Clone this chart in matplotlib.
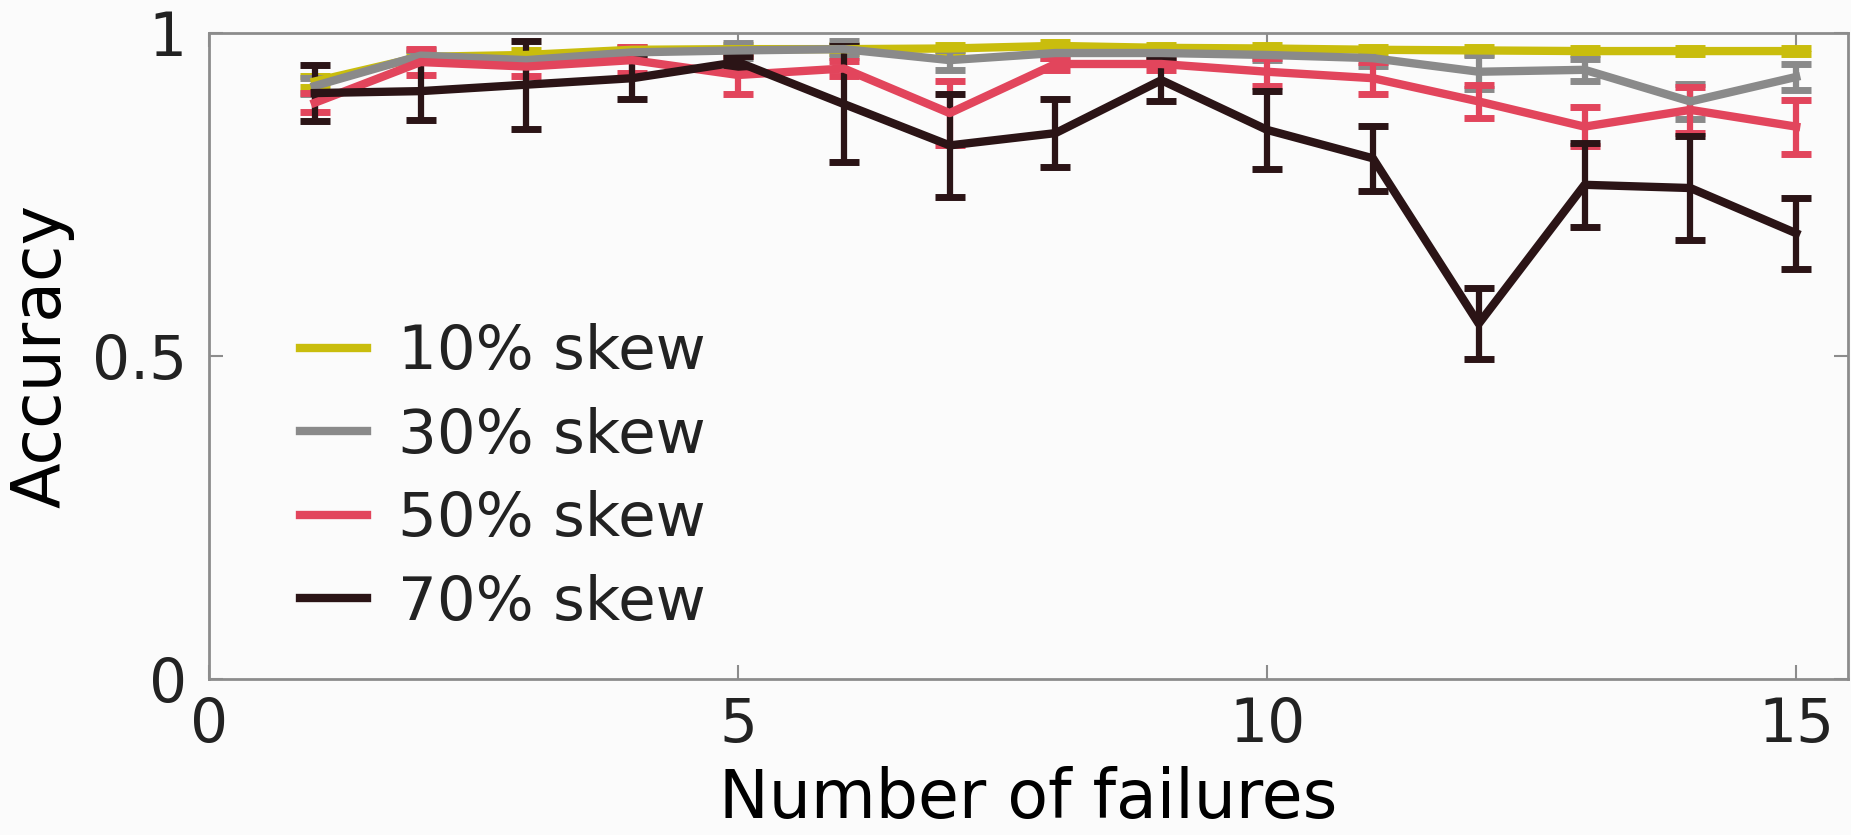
import matplotlib
matplotlib.use("Agg")
import matplotlib.pyplot as plt
from matplotlib.lines import Line2D
from matplotlib.ticker import FormatStrFormatter

# number of failed nodes on the x axis
failures = list(range(1, 16))

# mean accuracy and error for each skew level
acc_10 = [0.925, 0.963, 0.966, 0.974, 0.975, 0.975, 0.976, 0.980, 0.977, 0.976, 0.974, 0.973, 0.972, 0.972, 0.972]
err_10 = [0.008, 0.006, 0.008, 0.005, 0.006, 0.006, 0.006, 0.006, 0.005, 0.006, 0.005, 0.006, 0.005, 0.005, 0.005]

acc_30 = [0.918, 0.965, 0.958, 0.970, 0.973, 0.975, 0.958, 0.969, 0.969, 0.966, 0.961, 0.940, 0.943, 0.894, 0.932]
err_30 = [0.012, 0.008, 0.008, 0.006, 0.012, 0.012, 0.015, 0.008, 0.006, 0.008, 0.012, 0.026, 0.017, 0.027, 0.020]

acc_50 = [0.892, 0.955, 0.948, 0.958, 0.935, 0.945, 0.876, 0.952, 0.952, 0.940, 0.930, 0.894, 0.855, 0.881, 0.855]
err_50 = [0.015, 0.020, 0.015, 0.020, 0.030, 0.012, 0.050, 0.010, 0.010, 0.022, 0.025, 0.026, 0.030, 0.036, 0.042]

acc_70 = [0.907, 0.910, 0.920, 0.930, 0.955, 0.890, 0.826, 0.845, 0.927, 0.850, 0.806, 0.550, 0.765, 0.760, 0.690]
err_70 = [0.044, 0.045, 0.068, 0.032, 0.010, 0.090, 0.080, 0.053, 0.032, 0.060, 0.050, 0.055, 0.065, 0.080, 0.055]

labels = ["10% skew", "30% skew", "50% skew", "70% skew"]
colors = ["#c9bd0d", "#8a8a8a", "#e2455c", "#2b1416"]

plt.rcParams['font.family'] = ['DejaVu Sans']
plt.rcParams['text.color'] = '#222222'

fig = plt.figure(figsize=(18.51, 8.35), dpi=100, facecolor='#fbfbfb')
ax = fig.add_axes([0.1129, 0.1868, 0.8855, 0.7737])
ax.set_facecolor('#fbfbfb')

series = [(acc_10, err_10), (acc_30, err_30), (acc_50, err_50), (acc_70, err_70)]
for (acc, err), col in zip(series, colors):
    ax.errorbar(failures, acc, yerr=err, color=col, lw=6, elinewidth=4.5,
                capsize=11, capthick=5)

ax.set_xlim(0, 15.49)
ax.set_ylim(0, 1)
ax.set_xticks([0, 5, 10, 15])
ax.set_yticks([0, 0.5, 1])
ax.yaxis.set_major_formatter(FormatStrFormatter('%g'))

for s in ax.spines.values():
    s.set_color('#8c8c8c')
    s.set_linewidth(2)

ax.tick_params(direction='in', length=10, width=1.5, color='#8c8c8c',
               top=True, right=True, labelsize=43, labelcolor='#222222')
ax.tick_params(axis='y', pad=16)
ax.tick_params(axis='x', pad=12)

ax.set_xlabel("Number of failures", fontsize=48, labelpad=8)
ax.set_ylabel("Accuracy", fontsize=48, labelpad=12)

# legend shows plain line samples, no error bar glyphs
handles = [Line2D([], [], color=c, lw=6) for c in colors]
ax.legend(handles, labels, loc='lower left', bbox_to_anchor=(0.033, 0.015),
          frameon=False, fontsize=44, handlelength=1.1, handletextpad=0.5,
          labelspacing=0.4, borderpad=0.1)

fig.savefig("out.png", dpi=100, facecolor=fig.get_facecolor())
